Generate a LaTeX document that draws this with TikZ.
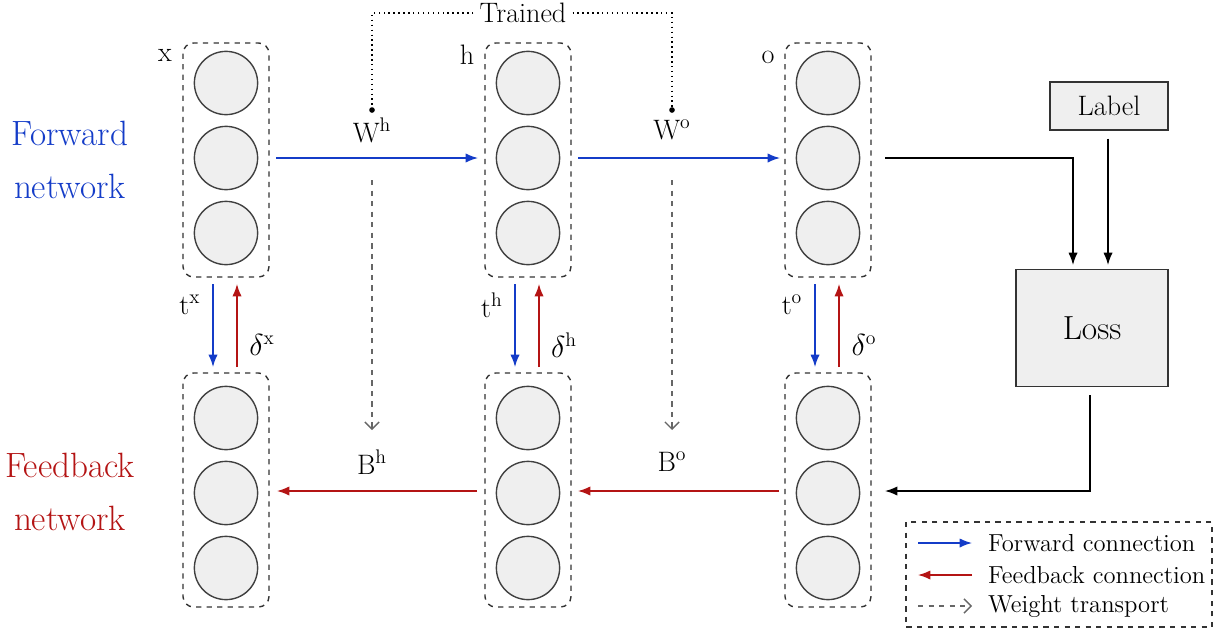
\documentclass[tikz,border=0pt]{standalone}
\usetikzlibrary{arrows.meta}
\definecolor{fwdblue}{RGB}{20,60,200}
\definecolor{fbred}{RGB}{180,20,20}
\definecolor{cellgray}{RGB}{239,239,239}
\tikzset{
    cell/.style={circle, draw=black!75, thick, fill=cellgray, minimum size=36pt, inner sep=0pt},
    layer/.style={draw=black!80, thick, dashed, rounded corners=6pt},
    fwd/.style={-{Latex[length=7pt]}, thick, fwdblue},
    fb/.style={-{Latex[length=7pt]}, thick, fbred},
    wt/.style={-{Straight Barb[length=4pt]}, thick, dashed, black!60},
    lbl/.style={font=\fontsize{16}{18}\selectfont},
    blk/.style={-{Latex[length=7pt]}, thick, black},
}
\begin{document}
\begin{tikzpicture}[x=0.02cm, y=-0.02cm]
    \useasboundingbox (0,0) rectangle (1214,629);

    % Layers (forward and feedback)
    \foreach \n/\x in {x/226, h/528, o/828} {
        \draw[layer] (\x-43,43) rectangle (\x+43,277);
        \draw[layer] (\x-43,373) rectangle (\x+43,607);
        \foreach \i/\y in {1/83, 2/158, 3/233} {
            \node[cell] (f\n\i) at (\x,\y) {};
            \node[cell] (b\n\i) at (\x,\y+335) {};
        }
        \coordinate (ftop\n) at (\x,284);
        \coordinate (bbot\n) at (\x,367);
    }
    \node[lbl] at (165,55) {x};
    \node[lbl] at (467,55) {h};
    \node[lbl] at (768,57) {o};

    % Network names
    \node[fwdblue, font=\fontsize{20}{30}\selectfont, align=center] at (70,160) {Forward\\network};
    \node[fbred, font=\fontsize{20}{30}\selectfont, align=center] at (70,492) {Feedback\\network};

    % Forward connections
    \coordinate (fxr) at (276,158); \coordinate (fhl) at (478,158);
    \coordinate (fhr) at (578,158); \coordinate (fol) at (780,158);
    \draw[fwd] (fxr) -- (fhl);
    \draw[fwd] (fhr) -- (fol);
    \node[lbl] (Wh) at (372,130) {W\textsuperscript{h}};
    \node[lbl] (Wo) at (672,130) {W\textsuperscript{o}};

    % Feedback connections
    \coordinate (bhl) at (477,491); \coordinate (bxr) at (277,491);
    \coordinate (bol) at (779,491); \coordinate (bhr) at (578,491);
    \draw[fb] (bhl) -- (bxr);
    \draw[fb] (bol) -- (bhr);
    \node[lbl] (Bh) at (372,462) {B\textsuperscript{h}};
    \node[lbl] (Bo) at (672,462) {B\textsuperscript{o}};

    % Weight transport
    \coordinate (wh1) at (372,180); \coordinate (wh2) at (372,430);
    \coordinate (wo1) at (672,180); \coordinate (wo2) at (672,430);
    \draw[wt] (wh1) -- (wh2);
    \draw[wt] (wo1) -- (wo2);

    % Between forward and feedback layers
    \foreach \n/\x in {x/226, h/528, o/828} {
        \draw[fwd] (\x-13,284) -- (\x-13,367);
        \draw[fb] (\x+11,367) -- (\x+11,284);
        \node[lbl] at (\x-36,305) {t\textsuperscript{\n}};
        \node[lbl] at (\x+36,345) {$\delta$\textsuperscript{\n}};
    }

    % Trained
    \node[lbl] (trained) at (523,13) {Trained};
    \coordinate (th) at (372,110); \coordinate (to) at (672,110);
    \draw[thick, dotted] (trained.west) -| (th);
    \draw[thick, dotted] (trained.east) -| (to);
    \fill (th) circle (1.6pt);
    \fill (to) circle (1.6pt);

    % Label and loss
    \node[draw=black!80, thick, fill=cellgray, minimum width=118*0.02cm, minimum height=48*0.02cm, lbl] (label) at (1109,106) {Label};
    \node[draw=black!80, thick, fill=cellgray, minimum width=152*0.02cm, minimum height=117*0.02cm, font=\fontsize{19}{22}\selectfont] (loss) at (1092,328) {Loss};
    \draw[blk] (885,158) -| (1073,265);
    \draw[blk] (label.south -| 1108,0) ++(0,8) -- (1108,265);
    \draw[blk] (1090,395) |- (885,491);

    % Legend
    \draw[thick, dashed, black!80] (906,522) rectangle (1212,627);
    \draw[fwd] (918,543) -- (972,543);
    \draw[fb] (972,575) -- (918,575);
    \draw[wt] (918,606) -- (972,606);
    \node[anchor=west, font=\fontsize{14}{16}\selectfont] at (982,543) {Forward connection};
    \node[anchor=west, font=\fontsize{14}{16}\selectfont] at (982,575) {Feedback connection};
    \node[anchor=west, font=\fontsize{14}{16}\selectfont] at (982,606) {Weight transport};
\end{tikzpicture}
\end{document}
